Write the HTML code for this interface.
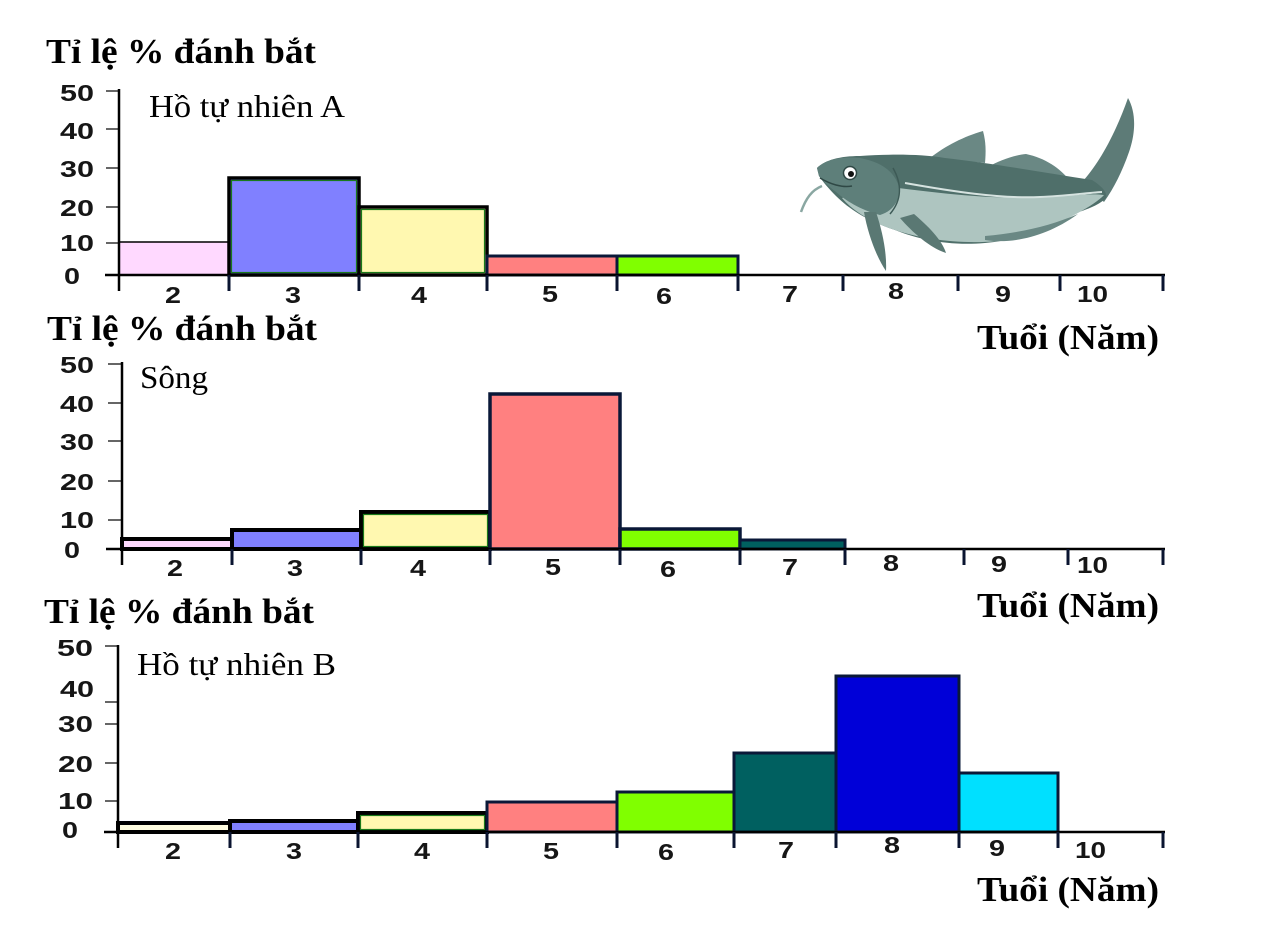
<!DOCTYPE html>
<html><head><meta charset="utf-8"><style>
html,body{margin:0;padding:0;background:#fff;}
svg{display:block;}
.t{font-family:"Liberation Serif","DejaVu Serif",serif;font-weight:bold;fill:#000;}
.s{font-family:"Liberation Serif","DejaVu Serif",serif;fill:#000;}
.n{font-family:"Liberation Sans","DejaVu Sans",sans-serif;font-weight:bold;fill:#161616;}
</style></head><body>
<svg width="1263" height="947" viewBox="0 0 1263 947" xmlns="http://www.w3.org/2000/svg">
<rect width="1263" height="947" fill="#fff"/>

<!-- ================= FISH ================= -->
<g>
  <path d="M930,158 C945,146 965,136 983,131 C986,142 986,152 985,163 Z" fill="#6a8884"/>
  <path d="M988,167 C1000,160 1015,155 1026,154 C1045,158 1060,168 1070,181 Z" fill="#6a8884"/>
  <path d="M1082,182 C1098,165 1115,135 1128,98 C1136,112 1136,132 1129,152 C1122,172 1114,188 1104,202 Z" fill="#5d7b77"/>
  <path d="M817,168 C825,160 840,156 860,156 C890,154 920,154 945,158 C990,163 1040,172 1092,180 C1100,185 1108,192 1106,198 C1098,206 1085,210 1070,215 C1050,228 1020,240 985,243 C950,246 920,240 895,230 C870,222 850,210 836,196 C829,189 823,182 819,176 Z" fill="#4f6f6a"/>
  <path d="M880,186 C920,190 980,200 1040,197 C1070,196 1090,193 1104,195 C1095,205 1065,222 1025,236 C985,247 930,242 895,230 C870,222 852,210 842,198 Z" fill="#aec5c0"/>
  <path d="M905,183 C950,191 1000,199 1040,197 C1065,196 1085,193 1102,192" fill="none" stroke="#d6e3e0" stroke-width="2"/>
  <path d="M817,168 C825,160 840,156 860,158 C880,162 895,170 900,190 C898,205 890,212 880,215 C860,210 845,200 836,192 C828,186 822,180 819,176 Z" fill="#5e7f7a"/>
  <path d="M893,168 C902,184 902,200 890,214" fill="none" stroke="#3d5a56" stroke-width="1.5"/>
  <path d="M820,178 C830,184 842,188 852,186" fill="none" stroke="#2f4845" stroke-width="1.5"/>
  <path d="M900,218 C912,232 930,248 946,253 C942,240 928,226 914,214 Z" fill="#5a7873"/>
  <path d="M864,212 C868,235 877,258 886,271 C887,252 882,230 876,212 Z" fill="#5a7873"/>
  <path d="M985,240 C1010,244 1045,238 1078,214 C1050,226 1020,233 985,236 Z" fill="#6a8884"/>
  <circle cx="850" cy="173" r="6.5" fill="#fff" stroke="#2f4845" stroke-width="1.5"/>
  <circle cx="851" cy="174" r="3" fill="#111"/>
  <path d="M822,186 C812,190 806,198 801,212" fill="none" stroke="#8aa7a2" stroke-width="2.5"/>
</g>

<!-- ================= CHART 1 ================= -->
<text class="t" x="46" y="63" font-size="35" textLength="270" lengthAdjust="spacingAndGlyphs">Tỉ lệ % đánh bắt</text>
<text class="s" x="149" y="117" font-size="32" textLength="196" lengthAdjust="spacingAndGlyphs">Hồ tự nhiên A</text>

<g stroke="#666" stroke-width="2">
  <line x1="106" y1="91" x2="119" y2="91"/><line x1="106" y1="129" x2="119" y2="129"/>
  <line x1="106" y1="168" x2="119" y2="168"/><line x1="106" y1="207" x2="119" y2="207"/>
  <line x1="106" y1="243" x2="119" y2="243"/>
</g>
<g class="n" font-size="23">
  <text x="60" y="101" textLength="34" lengthAdjust="spacingAndGlyphs">50</text>
  <text x="60" y="139" textLength="34" lengthAdjust="spacingAndGlyphs">40</text>
  <text x="60" y="177" textLength="34" lengthAdjust="spacingAndGlyphs">30</text>
  <text x="60" y="216" textLength="34" lengthAdjust="spacingAndGlyphs">20</text>
  <text x="60" y="251" textLength="34" lengthAdjust="spacingAndGlyphs">10</text>
  <text x="64" y="284" textLength="16" lengthAdjust="spacingAndGlyphs">0</text>
</g>
<rect x="119" y="242" width="110" height="33" fill="#ffd9ff" stroke="#000" stroke-width="1.5"/>
<rect x="229" y="178" width="130" height="97" fill="#8080ff" stroke="#000" stroke-width="3.5"/>
<rect x="231.5" y="180.5" width="125" height="92" fill="none" stroke="#1a7a1a" stroke-width="1.2"/>
<rect x="359" y="207" width="128" height="68" fill="#fff8b0" stroke="#000" stroke-width="3.5"/>
<rect x="361.5" y="209.5" width="123" height="63" fill="none" stroke="#1a7a1a" stroke-width="1.2"/>
<rect x="487" y="256" width="130" height="19" fill="#ff8080" stroke="#0a1838" stroke-width="3"/>
<rect x="617" y="256" width="121" height="19" fill="#80ff00" stroke="#0a1838" stroke-width="3"/>
<line x1="119" y1="89" x2="119" y2="291" stroke="#000" stroke-width="2.5"/>
<line x1="105" y1="275" x2="1165" y2="275" stroke="#000" stroke-width="2.5"/>
<g stroke="#0a1430" stroke-width="3">
  <line x1="229" y1="275" x2="229" y2="291"/><line x1="359" y1="275" x2="359" y2="291"/>
  <line x1="487" y1="275" x2="487" y2="291"/><line x1="617" y1="275" x2="617" y2="291"/>
  <line x1="738" y1="275" x2="738" y2="291"/><line x1="843" y1="275" x2="843" y2="291"/>
  <line x1="958" y1="275" x2="958" y2="291"/><line x1="1060" y1="275" x2="1060" y2="291"/>
  <line x1="1163" y1="275" x2="1163" y2="291"/>
</g>
<g class="n" font-size="23">
  <text x="165" y="303" textLength="16" lengthAdjust="spacingAndGlyphs">2</text>
  <text x="285" y="303" textLength="16" lengthAdjust="spacingAndGlyphs">3</text>
  <text x="411" y="303" textLength="16" lengthAdjust="spacingAndGlyphs">4</text>
  <text x="542" y="302" textLength="16" lengthAdjust="spacingAndGlyphs">5</text>
  <text x="656" y="304" textLength="16" lengthAdjust="spacingAndGlyphs">6</text>
  <text x="782" y="302" textLength="16" lengthAdjust="spacingAndGlyphs">7</text>
  <text x="888" y="299" textLength="16" lengthAdjust="spacingAndGlyphs">8</text>
  <text x="995" y="302" textLength="16" lengthAdjust="spacingAndGlyphs">9</text>
  <text x="1077" y="302" textLength="31" lengthAdjust="spacingAndGlyphs">10</text>
</g>
<text class="t" x="977" y="349" font-size="35" textLength="182" lengthAdjust="spacingAndGlyphs">Tuổi (Năm)</text>

<!-- ================= CHART 2 ================= -->
<text class="t" x="47" y="340" font-size="35" textLength="270" lengthAdjust="spacingAndGlyphs">Tỉ lệ % đánh bắt</text>
<text class="s" x="140" y="388" font-size="32" textLength="68" lengthAdjust="spacingAndGlyphs">Sông</text>

<g stroke="#666" stroke-width="2">
  <line x1="108" y1="364" x2="122" y2="364"/><line x1="108" y1="403" x2="122" y2="403"/>
  <line x1="108" y1="441" x2="122" y2="441"/><line x1="108" y1="481" x2="122" y2="481"/>
  <line x1="108" y1="520" x2="122" y2="520"/>
</g>
<g class="n" font-size="23">
  <text x="60" y="373" textLength="34" lengthAdjust="spacingAndGlyphs">50</text>
  <text x="60" y="412" textLength="34" lengthAdjust="spacingAndGlyphs">40</text>
  <text x="60" y="450" textLength="34" lengthAdjust="spacingAndGlyphs">30</text>
  <text x="60" y="490" textLength="34" lengthAdjust="spacingAndGlyphs">20</text>
  <text x="60" y="528" textLength="34" lengthAdjust="spacingAndGlyphs">10</text>
  <text x="64" y="558" textLength="16" lengthAdjust="spacingAndGlyphs">0</text>
</g>
<rect x="122" y="539" width="110" height="10" fill="#ffd9ff" stroke="#000" stroke-width="4"/>
<rect x="232" y="530" width="129" height="19" fill="#8080ff" stroke="#000" stroke-width="4"/>
<rect x="361" y="512" width="129" height="37" fill="#fff8b0" stroke="#000" stroke-width="4"/>
<rect x="363.5" y="514.5" width="124" height="32" fill="none" stroke="#1a7a1a" stroke-width="1.2"/>
<rect x="490" y="394" width="130" height="155" fill="#ff8080" stroke="#0a1838" stroke-width="3.5"/>
<rect x="620" y="529" width="120" height="20" fill="#80ff00" stroke="#0a1838" stroke-width="3.5"/>
<rect x="740" y="540" width="105" height="9" fill="#00605f" stroke="#0a1838" stroke-width="3"/>
<line x1="122" y1="362" x2="122" y2="565" stroke="#000" stroke-width="2.5"/>
<line x1="106" y1="549" x2="1165" y2="549" stroke="#000" stroke-width="2.5"/>
<g stroke="#0a1430" stroke-width="3">
  <line x1="232" y1="549" x2="232" y2="565"/><line x1="361" y1="549" x2="361" y2="565"/>
  <line x1="490" y1="549" x2="490" y2="565"/><line x1="620" y1="549" x2="620" y2="565"/>
  <line x1="740" y1="549" x2="740" y2="565"/><line x1="845" y1="549" x2="845" y2="565"/>
  <line x1="964" y1="549" x2="964" y2="565"/><line x1="1068" y1="549" x2="1068" y2="565"/>
  <line x1="1163" y1="549" x2="1163" y2="565"/>
</g>
<g class="n" font-size="23">
  <text x="167" y="576" textLength="16" lengthAdjust="spacingAndGlyphs">2</text>
  <text x="287" y="576" textLength="16" lengthAdjust="spacingAndGlyphs">3</text>
  <text x="410" y="576" textLength="16" lengthAdjust="spacingAndGlyphs">4</text>
  <text x="545" y="575" textLength="16" lengthAdjust="spacingAndGlyphs">5</text>
  <text x="660" y="577" textLength="16" lengthAdjust="spacingAndGlyphs">6</text>
  <text x="782" y="575" textLength="16" lengthAdjust="spacingAndGlyphs">7</text>
  <text x="883" y="571" textLength="16" lengthAdjust="spacingAndGlyphs">8</text>
  <text x="991" y="572" textLength="16" lengthAdjust="spacingAndGlyphs">9</text>
  <text x="1077" y="573" textLength="31" lengthAdjust="spacingAndGlyphs">10</text>
</g>
<text class="t" x="977" y="617" font-size="35" textLength="182" lengthAdjust="spacingAndGlyphs">Tuổi (Năm)</text>

<!-- ================= CHART 3 ================= -->
<text class="t" x="44" y="623" font-size="35" textLength="270" lengthAdjust="spacingAndGlyphs">Tỉ lệ % đánh bắt</text>
<text class="s" x="137" y="675" font-size="32" textLength="199" lengthAdjust="spacingAndGlyphs">Hồ tự nhiên B</text>

<g stroke="#666" stroke-width="2">
  <line x1="105" y1="646" x2="118" y2="646"/><line x1="105" y1="702" x2="118" y2="702"/>
  <line x1="105" y1="724" x2="118" y2="724"/><line x1="105" y1="763" x2="118" y2="763"/>
  <line x1="105" y1="801" x2="118" y2="801"/>
</g>
<g class="n" font-size="23">
  <text x="57" y="656" textLength="36" lengthAdjust="spacingAndGlyphs">50</text>
  <text x="60" y="697" textLength="34" lengthAdjust="spacingAndGlyphs">40</text>
  <text x="58" y="732" textLength="35" lengthAdjust="spacingAndGlyphs">30</text>
  <text x="58" y="772" textLength="35" lengthAdjust="spacingAndGlyphs">20</text>
  <text x="58" y="809" textLength="35" lengthAdjust="spacingAndGlyphs">10</text>
  <text x="62" y="838" textLength="16" lengthAdjust="spacingAndGlyphs">0</text>
</g>
<rect x="118" y="823" width="112" height="9" fill="#fffde0" stroke="#000" stroke-width="4"/>
<rect x="230" y="821" width="128" height="11" fill="#8080ff" stroke="#000" stroke-width="4"/>
<rect x="358" y="813" width="129" height="19" fill="#fff8b0" stroke="#000" stroke-width="4"/>
<rect x="360.5" y="815.5" width="124" height="14" fill="none" stroke="#1a7a1a" stroke-width="1.2"/>
<rect x="487" y="802" width="130" height="30" fill="#ff8080" stroke="#0a1838" stroke-width="3"/>
<rect x="617" y="792" width="117" height="40" fill="#80ff00" stroke="#0a1838" stroke-width="3"/>
<rect x="734" y="753" width="102" height="79" fill="#006060" stroke="#0a1838" stroke-width="3"/>
<rect x="836" y="676" width="123" height="156" fill="#0000d8" stroke="#0a1838" stroke-width="3"/>
<rect x="959" y="773" width="99" height="59" fill="#00e0ff" stroke="#0a1838" stroke-width="3"/>
<line x1="118" y1="645" x2="118" y2="848" stroke="#000" stroke-width="2.5"/>
<line x1="104" y1="832" x2="1165" y2="832" stroke="#000" stroke-width="2.5"/>
<g stroke="#0a1430" stroke-width="3">
  <line x1="230" y1="832" x2="230" y2="848"/><line x1="358" y1="832" x2="358" y2="848"/>
  <line x1="487" y1="832" x2="487" y2="848"/><line x1="617" y1="832" x2="617" y2="848"/>
  <line x1="734" y1="832" x2="734" y2="848"/><line x1="836" y1="832" x2="836" y2="848"/>
  <line x1="959" y1="832" x2="959" y2="848"/><line x1="1058" y1="832" x2="1058" y2="848"/>
  <line x1="1163" y1="832" x2="1163" y2="848"/>
</g>
<g class="n" font-size="23">
  <text x="165" y="859" textLength="16" lengthAdjust="spacingAndGlyphs">2</text>
  <text x="286" y="859" textLength="16" lengthAdjust="spacingAndGlyphs">3</text>
  <text x="414" y="859" textLength="16" lengthAdjust="spacingAndGlyphs">4</text>
  <text x="543" y="859" textLength="16" lengthAdjust="spacingAndGlyphs">5</text>
  <text x="658" y="860" textLength="16" lengthAdjust="spacingAndGlyphs">6</text>
  <text x="778" y="858" textLength="16" lengthAdjust="spacingAndGlyphs">7</text>
  <text x="884" y="853" textLength="16" lengthAdjust="spacingAndGlyphs">8</text>
  <text x="989" y="856" textLength="16" lengthAdjust="spacingAndGlyphs">9</text>
  <text x="1075" y="858" textLength="31" lengthAdjust="spacingAndGlyphs">10</text>
</g>
<text class="t" x="977" y="901" font-size="35" textLength="182" lengthAdjust="spacingAndGlyphs">Tuổi (Năm)</text>
</svg>
</body></html>
